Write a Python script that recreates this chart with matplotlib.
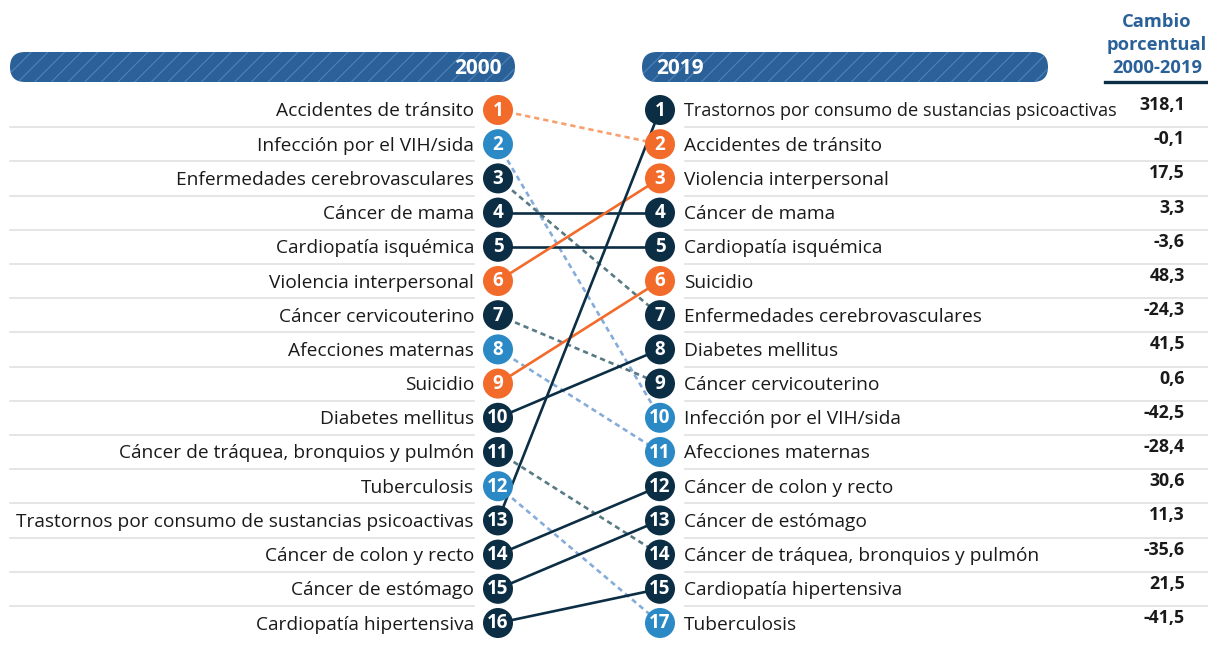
import matplotlib
matplotlib.use("Agg")
import matplotlib.pyplot as plt
from matplotlib.patches import Circle, FancyBboxPatch

# ---------------- data ----------------
causes = [
    "Accidentes de tránsito",
    "Infección por el VIH/sida",
    "Enfermedades cerebrovasculares",
    "Cáncer de mama",
    "Cardiopatía isquémica",
    "Violencia interpersonal",
    "Cáncer cervicouterino",
    "Afecciones maternas",
    "Suicidio",
    "Diabetes mellitus",
    "Cáncer de tráquea, bronquios y pulmón",
    "Tuberculosis",
    "Trastornos por consumo de sustancias psicoactivas",
    "Cáncer de colon y recto",
    "Cáncer de estómago",
    "Cardiopatía hipertensiva",
]
rank_2000 = [1, 2, 3, 4, 5, 6, 7, 8, 9, 10, 11, 12, 13, 14, 15, 16]
rank_2019 = [2, 10, 7, 4, 5, 3, 9, 11, 6, 8, 14, 17, 1, 12, 13, 15]
group = ["les", "trans", "ent", "ent", "ent", "les", "ent", "trans",
         "les", "ent", "ent", "trans", "ent", "ent", "ent", "ent"]
change_pct = [-0.1, -42.5, -24.3, 3.3, -3.6, 17.5, 0.6, -28.4,
              48.3, 41.5, -35.6, -41.5, 318.1, 30.6, 11.3, 21.5]
year_left, year_right = "2000", "2019"
header = ["Cambio", "porcentual", "2000-2019"]

# ---------------- style ----------------
FONT = "Open Sans"
plt.rcParams["font.family"] = [FONT, "DejaVu Sans"]
plt.rcParams["hatch.linewidth"] = 0.8

col_main = {"les": "#f26b2a", "trans": "#2b8ac6", "ent": "#0c2e44"}
col_down = {"les": "#f7a06d", "trans": "#86acd9", "ent": "#587a84"}
BAR = "#2b6199"
HATCH = "#5083b8"
HEAD = "#2b6199"
SEP = "#dedede"
TXT = "#1a1a1a"

W, H = 1208, 654
fig = plt.figure(figsize=(W / 100, H / 100), dpi=100)
ax = fig.add_axes([0, 0, 1, 1])
ax.set_xlim(0, W)
ax.set_ylim(H, 0)
ax.axis("off")

y0, dy = 110, 34.2
xl, xr = 498, 660
r = 15
n = len(causes)
label_fs = 13.8
right_label_max = 1117 - 684

def row_y(i):
    return y0 + i * dy

order_right = sorted(range(n), key=lambda k: rank_2019[k])
slot_right = {k: s for s, k in enumerate(order_right)}

# separators
for i in range(n - 1):
    ys = row_y(i) + dy / 2
    ax.plot([10, 474], [ys, ys], color=SEP, lw=1.1, zorder=1)
    ax.plot([685, W], [ys, ys], color=SEP, lw=1.1, zorder=1)

# header bars (pill shapes)
for x0, x1 in [(10, 515), (642, 1048)]:
    p = FancyBboxPatch((x0, 52), x1 - x0, 30,
                       boxstyle="round,pad=0,rounding_size=15",
                       facecolor=BAR, edgecolor=HATCH, hatch="//",
                       lw=0, zorder=2)
    ax.add_patch(p)
ax.text(502, 68, year_left, ha="right", va="center", color="white",
        fontsize=15, fontweight="bold", zorder=3)
ax.text(656, 68, year_right, ha="left", va="center", color="white",
        fontsize=15, fontweight="bold", zorder=3)

for i, line in enumerate(header):
    ax.text(1157, 22 + i * 23, line, ha="center", va="center", color=HEAD,
            fontsize=13.2, fontweight="bold")
ax.plot([1105, W], [82, 82], color="#0c2e44", lw=2.4)

# connecting lines
for k in range(n):
    ya = row_y(rank_2000[k] - 1)
    yb = row_y(slot_right[k])
    g = group[k]
    if rank_2019[k] <= rank_2000[k]:
        ax.plot([xl, xr], [ya, yb], color=col_main[g], lw=1.9, zorder=3,
                solid_capstyle="butt")
    else:
        ax.plot([xl, xr], [ya, yb], color=col_down[g], lw=1.9, zorder=3,
                linestyle=(0, (2.0, 1.5)))

renderer = fig.canvas.get_renderer()

# circles + labels
for k in range(n):
    g = group[k]
    ya = row_y(rank_2000[k] - 1)
    yb = row_y(slot_right[k])
    ax.add_patch(Circle((xl, ya), r, color=col_main[g], zorder=4, lw=0))
    ax.add_patch(Circle((xr, yb), r, color=col_main[g], zorder=4, lw=0))
    ax.text(xl, ya + 0.5, str(rank_2000[k]), ha="center", va="center",
            color="white", fontsize=13.5, fontweight="bold", zorder=5)
    ax.text(xr, yb + 0.5, str(rank_2019[k]), ha="center", va="center",
            color="white", fontsize=13.5, fontweight="bold", zorder=5)
    ax.text(474, ya + 1.5, causes[k], ha="right", va="center", color=TXT,
            fontsize=label_fs, zorder=5)
    t = ax.text(684, yb + 1.5, causes[k], ha="left", va="center", color=TXT,
                fontsize=label_fs, zorder=5)
    w = t.get_window_extent(renderer).width
    if w > right_label_max:
        t.set_fontsize(label_fs * right_label_max / w)
    val = f"{change_pct[k]:.1f}".replace(".", ",")
    ax.text(1185, yb - 5, val, ha="right", va="center", color=TXT,
            fontsize=12.8, fontweight="bold", zorder=5)

fig.savefig("out.png", dpi=100)
